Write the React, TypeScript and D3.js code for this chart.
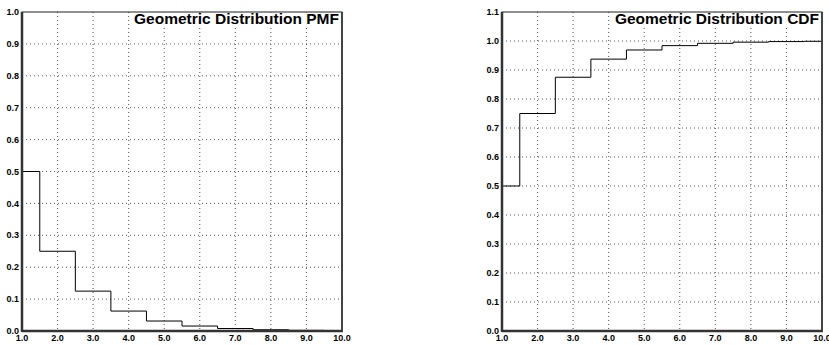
import * as d3 from "d3";

// bin centres 1..10, geometric p = 0.5
const bins = [1, 2, 3, 4, 5, 6, 7, 8, 9, 10];
const pmfValues = [0.5, 0.25, 0.125, 0.0625, 0.03125, 0.0156, 0.0078, 0.0039, 0.002, 0.001];
const cdfValues = [0.5, 0.75, 0.875, 0.9375, 0.969, 0.984, 0.992, 0.996, 0.998, 0.999];
const xTicks = [1, 2, 3, 4, 5, 6, 7, 8, 9, 10];
const pmfYTicks = [0, 0.1, 0.2, 0.3, 0.4, 0.5, 0.6, 0.7, 0.8, 0.9, 1.0];
const cdfYTicks = [0, 0.1, 0.2, 0.3, 0.4, 0.5, 0.6, 0.7, 0.8, 0.9, 1.0, 1.1];

const FONT = "'Liberation Sans', Arial, Helvetica, sans-serif";

type PanelProps = {
  id: string;
  left: number;
  title: string;
  values: number[];
  yMax: number;
  yTicks: number[];
};

function Panel({ id, left, title, values, yMax, yTicks }: PanelProps) {
  const top = 12;
  const w = 320;
  const h = 319;
  const x = d3.scaleLinear().domain([1, 10]).range([0, w]);
  const y = d3.scaleLinear().domain([0, yMax]).range([h, 0]);

  // histogram outline: each bin spans centre +/- 0.5
  const pts: [number, number][] = [[bins[0] - 0.5, 0]];
  bins.forEach((b, i) => {
    pts.push([b - 0.5, values[i]]);
    pts.push([b + 0.5, values[i]]);
  });
  pts.push([bins[bins.length - 1] + 0.5, 0]);
  const line = d3.line<[number, number]>()
    .x(d => x(d[0]))
    .y(d => y(d[1]));

  return (
    <g transform={`translate(${left},${top})`}>
      <defs>
        <clipPath id={id}>
          <rect x={0} y={0} width={w} height={h} />
        </clipPath>
      </defs>
      <rect x={0} y={0} width={w} height={h} fill="white" />
      {xTicks.slice(1, -1).map(t => (
        <line key={"gx" + t} x1={x(t)} x2={x(t)} y1={0} y2={h}
          stroke="#555" strokeWidth={1} strokeDasharray="1,3" />
      ))}
      {yTicks.filter(t => t > 0 && t < yMax).map(t => (
        <line key={"gy" + t} x1={0} x2={w} y1={y(t)} y2={y(t)}
          stroke="#555" strokeWidth={1} strokeDasharray="1,3" />
      ))}
      <path d={line(pts) ?? ""} fill="none" stroke="black" strokeWidth={1}
        clipPath={`url(#${id})`} />
      {/* title box */}
      <rect x={w - 192} y={0.5} width={191} height={14} fill="white" />
      <text x={w - 3} y={11.5} textAnchor="end" fontFamily={FONT} fontWeight="bold"
        fontSize={15.5}>{title}</text>
      {/* frame */}
      <rect x={0} y={0} width={w} height={h} fill="none" stroke="#222" strokeWidth={1} />
      <line x1={0} x2={0} y1={0} y2={h + 1} stroke="#333" strokeWidth={2.5} />
      <line x1={0} x2={w + 1} y1={h} y2={h} stroke="#333" strokeWidth={2.5} />
      <line x1={w} x2={w} y1={0} y2={h} stroke="#444" strokeWidth={2} />
      {yTicks.map(t => (
        <text key={"ty" + t} x={-3} y={y(t)} dy="0.35em" textAnchor="end"
          fontFamily={FONT} fontWeight="bold" fontSize={9}>{t.toFixed(1)}</text>
      ))}
      {xTicks.map(t => (
        <text key={"tx" + t} x={x(t)} y={h + 3.5} dy="0.7em" textAnchor="middle"
          fontFamily={FONT} fontWeight="bold" fontSize={9}>{t.toFixed(1)}</text>
      ))}
    </g>
  );
}

export default function App() {
  return (
    <svg width={829} height={345}
      style={{ position: "absolute", left: 0, top: 0, background: "white" }}>
      <Panel id="clip-pmf" left={22} title="Geometric Distribution PMF"
        values={pmfValues} yMax={1.0} yTicks={pmfYTicks} />
      <Panel id="clip-cdf" left={502} title="Geometric Distribution CDF"
        values={cdfValues} yMax={1.1} yTicks={cdfYTicks} />
    </svg>
  );
}
